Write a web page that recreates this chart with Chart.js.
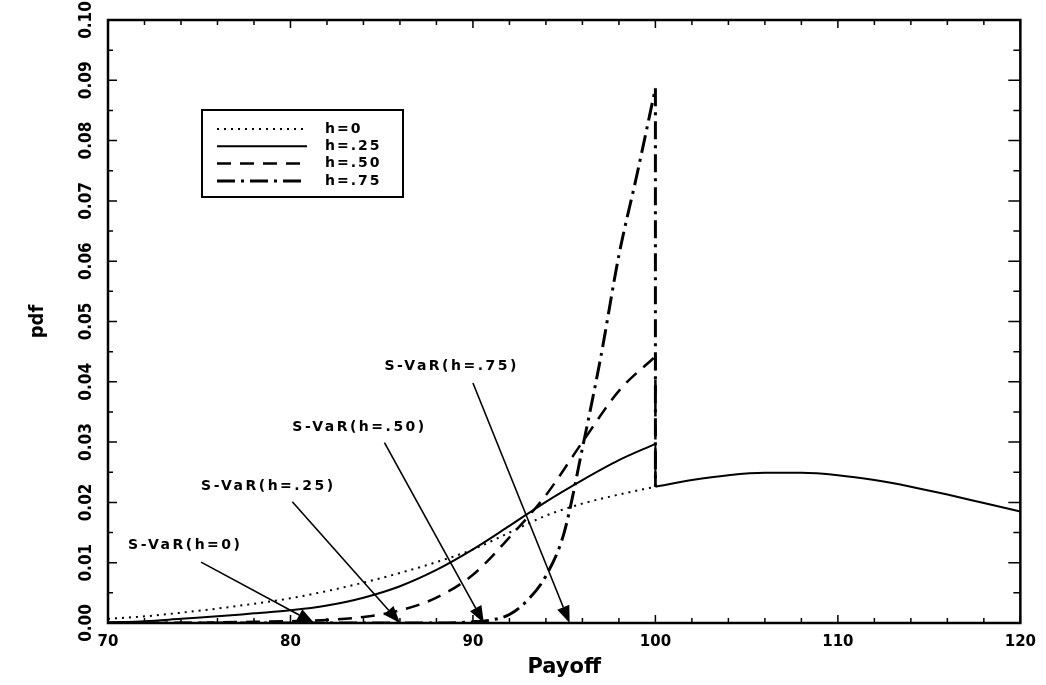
<!DOCTYPE html>
<html>
<head>
<meta charset="utf-8">
<script src="https://cdn.jsdelivr.net/npm/chart.js@4.4.0/dist/chart.umd.min.js"></script>
<style>
  html, body { margin: 0; padding: 0; background: #fff; }
  #wrap { width: 1046px; height: 685px; position: relative; }
</style>
</head>
<body>
<div id="wrap"><canvas id="pdfChart"></canvas></div>
<script>
// payoff grid for the left part of the densities (below 100)
const payoffLeft = [70, 72, 74, 76, 78, 80, 82, 84, 86, 88, 90, 92, 94, 96, 98, 100];
const pdfH0  = [0.0007, 0.0011, 0.0017, 0.0024, 0.0032, 0.0041, 0.0053, 0.0067, 0.0083, 0.0101, 0.0122, 0.0150, 0.0178, 0.0198, 0.0213, 0.0226];
const pdfH25 = [0.0001, 0.0003, 0.0007, 0.0011, 0.0016, 0.0021, 0.0029, 0.0042, 0.0061, 0.0088, 0.0122, 0.0161, 0.0201, 0.0237, 0.0270, 0.0297];
const pdfH50 = [0, 0, 0, 0.0001, 0.0002, 0.0003, 0.0005, 0.0010, 0.0021, 0.0042, 0.0080, 0.0142, 0.0212, 0.0300, 0.0385, 0.0442];
const payoffH75 = [70, 80, 88, 90, 91, 92, 93, 94, 95, 96, 97, 98, 99, 100];
const pdfH75 = [0, 0, 0, 0.0002, 0.0005, 0.0014, 0.0038, 0.0078, 0.0150, 0.0290, 0.0440, 0.0610, 0.0745, 0.0887];

// common right part (above 100)
const payoffRight = [100, 102, 104, 106, 108, 110, 112, 114, 116, 118, 120];
const pdfRight = [0.0226, 0.0237, 0.0245, 0.0249, 0.0249, 0.0245, 0.0237, 0.0226, 0.0213, 0.0199, 0.0185];

const seriesLabels = ['h=0', 'h=.25', 'h=.50', 'h=.75'];
const xTickValues = [70, 80, 90, 100, 110, 120];
const yTickValues = [0, 0.01, 0.02, 0.03, 0.04, 0.05, 0.06, 0.07, 0.08, 0.09, 0.10];
const yTickLabels = ['0.00', '0.01', '0.02', '0.03', '0.04', '0.05', '0.06', '0.07', '0.08', '0.09', '0.10'];

// S-VaR annotations: text, text anchor (payoff, pdf), arrow tail, arrow tip payoff
const varTexts = ['S-VaR(h=0)', 'S-VaR(h=.25)', 'S-VaR(h=.50)', 'S-VaR(h=.75)'];
const varTextAt = [[71.1, 0.0128], [75.1, 0.0226], [80.1, 0.0325], [85.15, 0.0426]];
const varTailAt = [[75.1, 0.0101], [80.1, 0.0201], [85.15, 0.0299], [90.0, 0.0398]];
const varTipX = [81.3, 86.0, 90.6, 95.3];

const pts = (xs, ys) => xs.map((x, i) => ({ x: x, y: ys[i] }));

const narrowFont = '"DejaVu Sans Condensed", "Liberation Sans", Arial, sans-serif';
const wideFont = '"DejaVu Sans", sans-serif';

const styles = [
    { dash: [2, 5], width: 2 },
    { dash: [], width: 2 },
    { dash: [14, 9], width: 2.5 },
    { dash: [18, 6, 3, 6], width: 3 }
];

function line(label, data, st, opts) {
    return Object.assign({
        label: label,
        data: data,
        borderColor: '#000',
        borderWidth: st.width,
        borderDash: st.dash,
        pointRadius: 0,
        fill: false,
        cubicInterpolationMode: 'monotone'
    }, opts || {});
}

const datasets = [
    line(seriesLabels[1], pts(payoffLeft, pdfH25), styles[1], { legendRow: 1 }),
    line(seriesLabels[0], pts(payoffLeft, pdfH0), styles[0], { legendRow: 0 }),
    line(seriesLabels[2], pts(payoffLeft, pdfH50), styles[2], { legendRow: 2 }),
    line(seriesLabels[3], pts(payoffH75, pdfH75), styles[3], { legendRow: 3 }),
    // vertical drops at payoff 100
    line('', [{ x: 100, y: pdfH25[pdfH25.length - 1] }, { x: 100, y: pdfRight[0] }], styles[1], { tension: 0, cubicInterpolationMode: 'default' }),
    line('', [{ x: 100, y: pdfH50[pdfH50.length - 1] }, { x: 100, y: pdfRight[0] }], styles[2], { tension: 0, cubicInterpolationMode: 'default' }),
    line('', [{ x: 100, y: pdfH75[pdfH75.length - 1] }, { x: 100, y: pdfRight[0] }], styles[3], { tension: 0, cubicInterpolationMode: 'default' }),
    line('', pts(payoffRight, pdfRight), styles[1])
];

const decor = {
    id: 'decor',
    afterDatasetsDraw(chart) {
        const ctx = chart.ctx;
        const xs = chart.scales.x, ys = chart.scales.y;
        const a = chart.chartArea;
        ctx.save();
        ctx.strokeStyle = '#000';
        ctx.fillStyle = '#000';
        ctx.setLineDash([]);

        // frame
        ctx.lineWidth = 2.5;
        ctx.strokeRect(a.left, a.top, a.right - a.left, a.bottom - a.top);

        // inward ticks
        ctx.lineWidth = 1.5;
        ctx.beginPath();
        for (let k = 0; k <= 20; k++) {
            const py = ys.getPixelForValue(k * 0.005);
            const major = k % 2 === 0;
            ctx.moveTo(a.left, py); ctx.lineTo(a.left + (major ? 9 : 5), py);
            ctx.moveTo(a.right, py); ctx.lineTo(a.right - (major ? 12 : 7), py);
        }
        for (let v = 70; v <= 120; v += 2) {
            const px = xs.getPixelForValue(v);
            const major = v % 10 === 0;
            ctx.moveTo(px, a.bottom); ctx.lineTo(px, a.bottom - (major ? 8 : 5));
            ctx.moveTo(px, a.top); ctx.lineTo(px, a.top + (major ? 8 : 5));
        }
        ctx.stroke();

        // rotated y tick labels
        ctx.font = 'bold 17px ' + narrowFont;
        ctx.textAlign = 'center';
        ctx.textBaseline = 'middle';
        yTickValues.forEach((v, i) => {
            ctx.save();
            ctx.translate(87, ys.getPixelForValue(v));
            ctx.rotate(-Math.PI / 2);
            ctx.fillText(yTickLabels[i], 0, 0);
            ctx.restore();
        });

        // legend box
        ctx.lineWidth = 2;
        ctx.strokeRect(202, 110, 201, 87);
        ctx.font = 'bold 14px ' + wideFont;
        ctx.letterSpacing = '2px';
        ctx.textAlign = 'left';
        chart.data.datasets.forEach(ds => {
            if (ds.legendRow === undefined) return;
            const yy = 129 + ds.legendRow * 17.3;
            ctx.setLineDash(ds.borderDash);
            ctx.lineWidth = ds.borderWidth;
            ctx.beginPath();
            ctx.moveTo(217, yy); ctx.lineTo(307, yy);
            ctx.stroke();
            ctx.setLineDash([]);
            ctx.fillText(ds.label, 325, yy);
        });

        // S-VaR annotations
        ctx.font = 'bold 14px ' + wideFont;
        ctx.letterSpacing = '2.5px';
        varTexts.forEach((t, i) => {
            ctx.fillText(t, xs.getPixelForValue(varTextAt[i][0]), ys.getPixelForValue(varTextAt[i][1]));
            const x0 = xs.getPixelForValue(varTailAt[i][0]), y0 = ys.getPixelForValue(varTailAt[i][1]);
            const x1 = xs.getPixelForValue(varTipX[i]), y1 = ys.getPixelForValue(0);
            const ang = Math.atan2(y1 - y0, x1 - x0);
            const hl = 17, hw = 6.5;
            const bx = x1 - hl * Math.cos(ang), by = y1 - hl * Math.sin(ang);
            ctx.lineWidth = 1.6;
            ctx.beginPath();
            ctx.moveTo(x0, y0); ctx.lineTo(bx, by);
            ctx.stroke();
            ctx.beginPath();
            ctx.moveTo(x1, y1);
            ctx.lineTo(bx + hw * Math.sin(ang), by - hw * Math.cos(ang));
            ctx.lineTo(bx - hw * Math.sin(ang), by + hw * Math.cos(ang));
            ctx.closePath();
            ctx.fill();
        });
        ctx.letterSpacing = '0px';
        ctx.restore();
    }
};

new Chart(document.getElementById('pdfChart'), {
    type: 'line',
    data: { datasets: datasets },
    options: {
        responsive: true,
        maintainAspectRatio: false,
        animation: false,
        devicePixelRatio: 1,
        layout: { padding: { top: 20, right: 24, left: 0, bottom: 0 } },
        plugins: { legend: { display: false }, tooltip: { enabled: false } },
        scales: {
            x: {
                type: 'linear',
                min: 70,
                max: 120,
                grid: { display: false, drawTicks: false },
                border: { display: false },
                afterBuildTicks: s => { s.ticks = xTickValues.map(v => ({ value: v })); },
                afterFit: s => { s.height = 62; },
                ticks: {
                    color: '#000',
                    padding: 10,
                    maxRotation: 0,
                    font: { family: 'DejaVu Sans', weight: 'bold', size: 15 }
                },
                title: {
                    display: true,
                    text: 'Payoff',
                    color: '#000',
                    padding: { top: 0, bottom: 5 },
                    font: { family: 'DejaVu Sans', weight: 'bold', size: 21 }
                }
            },
            y: {
                min: 0,
                max: 0.1,
                grid: { display: false, drawTicks: false },
                border: { display: false },
                afterBuildTicks: s => { s.ticks = yTickValues.map(v => ({ value: v })); },
                afterFit: s => { s.width = 108; },
                ticks: { display: false },
                title: {
                    display: true,
                    text: 'pdf',
                    color: '#000',
                    padding: { top: 26, bottom: 0 },
                    font: { family: narrowFont, weight: 'bold', size: 20 }
                }
            }
        }
    },
    plugins: [decor]
});
</script>
</body>
</html>
